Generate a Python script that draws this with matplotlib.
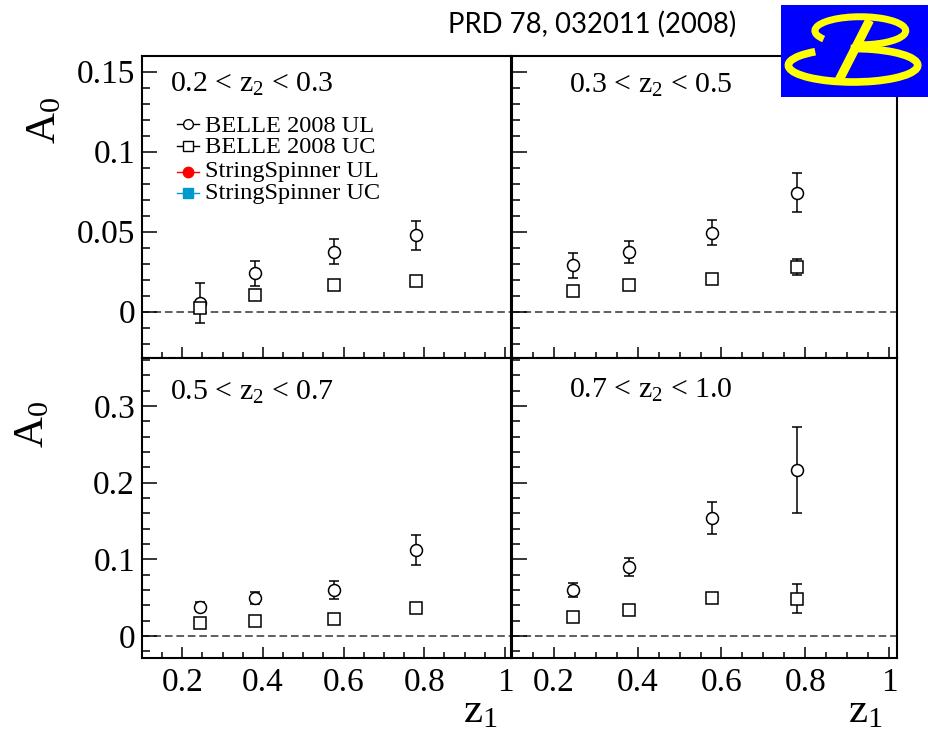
import matplotlib
matplotlib.use("Agg")
import matplotlib.pyplot as plt
from matplotlib.ticker import MultipleLocator, FuncFormatter
from matplotlib.patches import Arc, Rectangle
from matplotlib.lines import Line2D

plt.rcParams['font.family'] = ['Liberation Serif', 'DejaVu Serif']
plt.rcParams['mathtext.default'] = 'regular'

# ---------------- data ----------------
z1 = [0.245, 0.38, 0.577, 0.78]
z2_bins = ["0.2 < z$_2$ < 0.3", "0.3 < z$_2$ < 0.5", "0.5 < z$_2$ < 0.7", "0.7 < z$_2$ < 1.0"]

ul_a = [0.0056, 0.0240, 0.0375, 0.0477]
ul_a_err = [0.0125, 0.0078, 0.0077, 0.0090]
uc_a = [0.0021, 0.0104, 0.0163, 0.0194]
uc_a_err = [0.0020, 0.0020, 0.0020, 0.0028]

ul_b = [0.0288, 0.0373, 0.0494, 0.0744]
ul_b_err = [0.0077, 0.0071, 0.0081, 0.0123]
uc_b = [0.0127, 0.0163, 0.0204, 0.0279]
uc_b_err = [0.0020, 0.0020, 0.0020, 0.0050]

ul_c = [0.0383, 0.0491, 0.0600, 0.1122]
ul_c_err = [0.0060, 0.0080, 0.0120, 0.0200]
uc_c = [0.0165, 0.0200, 0.0222, 0.0361]
uc_c_err = [0.0030, 0.0030, 0.0030, 0.0040]

ul_d = [0.0596, 0.0900, 0.1539, 0.2165]
ul_d_err = [0.0090, 0.0113, 0.0205, 0.0556]
uc_d = [0.0248, 0.0335, 0.0500, 0.0487]
uc_d_err = [0.0040, 0.0040, 0.0050, 0.0190]

legend_labels = ["BELLE 2008 UL", "BELLE 2008 UC", "StringSpinner UL", "StringSpinner UC"]
y_ticks_top = [0, 0.05, 0.1, 0.15]
y_ticks_bottom = [0, 0.1, 0.2, 0.3]
x_ticks = [0.2, 0.4, 0.6, 0.8, 1.0]

# ---------------- layout ----------------
W, H = 929, 737
fig = plt.figure(figsize=(W / 100, H / 100), dpi=100)


def fx(px):
    return px / W


def fy(py):
    return 1 - py / H


def add_ax(l, t, r, b):
    return fig.add_axes([fx(l), fy(b), (r - l) / W, (b - t) / H])


boxes = [(142, 55.5, 511, 358), (512, 55.5, 897, 358),
         (142, 358, 511, 658), (512, 358, 897, 658)]
xlims = [(0.1, 1.015), (0.1, 1.019), (0.1, 1.015), (0.1, 1.019)]
ylims = [(-0.029, 0.160), (-0.029, 0.160), (-0.0287, 0.3626), (-0.0287, 0.3626)]
series = [(ul_a, ul_a_err, uc_a, uc_a_err), (ul_b, ul_b_err, uc_b, uc_b_err),
          (ul_c, ul_c_err, uc_c, uc_c_err), (ul_d, ul_d_err, uc_d, uc_d_err)]

fmt = FuncFormatter(lambda v, p: "%g" % round(v, 6))

for i, box in enumerate(boxes):
    ax = add_ax(*box)
    ul, ule, uc, uce = series[i]
    ax.axhline(0, color='#333333', lw=1.1, ls=(0, (5, 2.5)), zorder=1)
    ax.errorbar(z1, ul, yerr=ule, fmt='o', ms=8.6, mfc='white', mec='black', mew=1.1,
                ecolor='black', elinewidth=1.1, capsize=3.3, capthick=1.1, zorder=3)
    ax.errorbar(z1, uc, yerr=uce, fmt='s', ms=8.4, mfc='white', mec='black', mew=1.1,
                ecolor='black', elinewidth=1.1, capsize=3.3, capthick=1.1, zorder=4)
    ax.set_xlim(*xlims[i])
    ax.set_ylim(*ylims[i])
    ax.set_xticks(x_ticks)
    ax.xaxis.set_minor_locator(MultipleLocator(0.05))
    if i < 2:
        ax.set_yticks(y_ticks_top)
        ax.yaxis.set_minor_locator(MultipleLocator(0.01))
    else:
        ax.set_yticks(y_ticks_bottom)
        ax.yaxis.set_minor_locator(MultipleLocator(0.02))
    ax.xaxis.set_major_formatter(fmt)
    ax.yaxis.set_major_formatter(fmt)
    ax.tick_params(which='both', direction='in', top=False, right=False,
                   labelsize=24, width=1.1)
    ax.tick_params(axis='y', which='major', length=11, pad=5)
    ax.tick_params(axis='y', which='minor', length=5.5)
    ax.tick_params(axis='x', which='major', length=8, pad=7)
    ax.tick_params(axis='x', which='minor', length=4)
    ax.tick_params(labelbottom=(i >= 2), labelleft=(i % 2 == 0))
    for s in ax.spines.values():
        s.set_linewidth(1.5)
    ax.set_facecolor('white')

# panel labels
label_pos = [(170, 92), (569, 93), (170, 400), (569, 398)]
for (px, py), lab in zip(label_pos, z2_bins):
    fig.text(fx(px), fy(py), lab, fontsize=21.5, va='baseline', ha='left')

# legend (drawn manually)
leg_styles = [
    dict(marker='o', mfc='white', mec='black', color='black', ms=7, mew=1.0),
    dict(marker='s', mfc='white', mec='black', color='black', ms=7, mew=1.0),
    dict(marker='o', mfc='#ff0000', mec='#ff0000', color='#ff0000', ms=7.5, mew=1.0),
    dict(marker='s', mfc='#0099cc', mec='#0099cc', color='#0099cc', ms=7.5, mew=1.0),
]
leg_marker_y = [124, 145.7, 171.7, 193.3]
leg_text_y = [131.7, 153.3, 177.5, 199.0]
for st, my, ty, lab in zip(leg_styles, leg_marker_y, leg_text_y, legend_labels):
    fig.add_artist(Line2D([fx(176.7), fx(199.3)], [fy(my), fy(my)], transform=fig.transFigure,
                          color=st['color'], lw=1.0))
    fig.add_artist(Line2D([fx(187.7)], [fy(my)], transform=fig.transFigure, ls='none',
                          marker=st['marker'], mfc=st['mfc'], mec=st['mec'], ms=st['ms'],
                          mew=st['mew']))
    fig.text(fx(205), fy(ty), lab, fontsize=17.6, va='baseline', ha='left')

# axis titles
fig.text(fx(45), fy(120), 'A$_0$', rotation=90, ha='center', va='center', fontsize=31)
fig.text(fx(33), fy(424), 'A$_0$', rotation=90, ha='center', va='center', fontsize=31)
fig.text(fx(498), fy(722), 'z$_1$', ha='right', va='baseline', fontsize=31)
fig.text(fx(883), fy(722), 'z$_1$', ha='right', va='baseline', fontsize=31)

# reference text
fig.text(fx(448), fy(33), 'PRD 78, 032011 (2008)', family=['Lato', 'DejaVu Sans'],
         fontsize=19.8, va='baseline', ha='left')

# Belle logo
lax = fig.add_axes([fx(781), fy(97), (929 - 781) / W, (97 - 5) / H], zorder=10)
lax.set_xlim(0, 1)
lax.set_ylim(0, 1)
lax.axis('off')
lax.add_patch(Rectangle((0, 0), 1, 1, color='#0000ff', transform=lax.transAxes, zorder=0))
yel = '#ffff00'
lax.add_patch(Arc((0.536, 0.72), 0.614, 0.305, theta1=-100, theta2=200, color=yel, lw=5, zorder=2))
lax.add_patch(Arc((0.487, 0.345), 0.874, 0.364, theta1=150, theta2=455, color=yel, lw=5.5, zorder=2))
lax.add_artist(Line2D([0.599, 0.386], [0.836, 0.164], color=yel, lw=6.5, solid_capstyle='butt', zorder=3))

fig.savefig('out.png', dpi=100)
